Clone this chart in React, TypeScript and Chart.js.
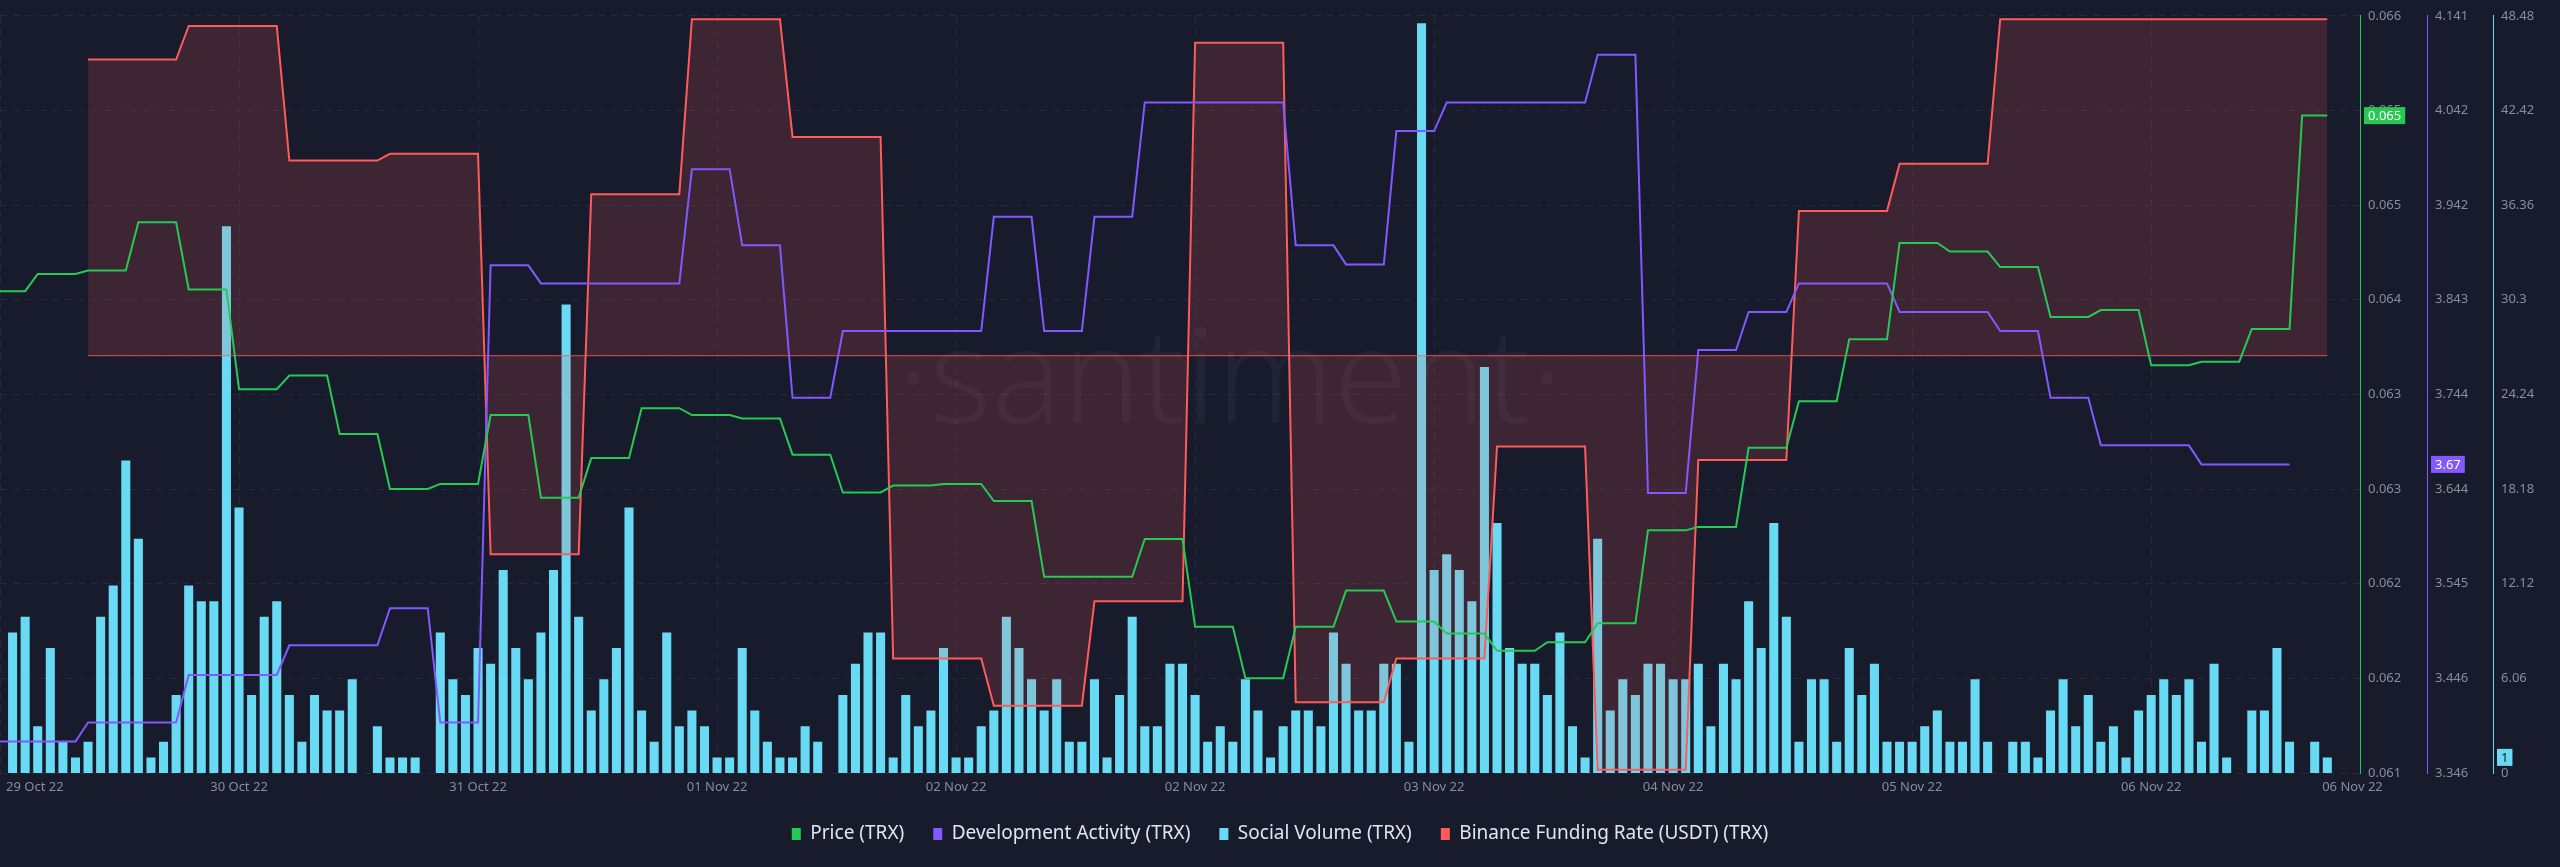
import React, { useEffect, useRef } from 'react';
import { Chart, registerables } from 'chart.js';

Chart.register(...registerables);

// ---------- data (hourly samples, index 0..185) ----------
const X_INDEX: number[] = Array.from({ length: 186 }, (_, i) => i);

const X_TICK_LABELS = ['29 Oct 22', '30 Oct 22', '31 Oct 22', '01 Nov 22', '02 Nov 22', '02 Nov 22', '03 Nov 22', '04 Nov 22', '05 Nov 22', '06 Nov 22', '06 Nov 22'];
const X_TICK_AT = [0, 19, 38, 57, 76, 95, 114, 133, 152, 171, 187];

const PRICE_MIN = 0.06125;
const PRICE_MAX = 0.06565;
const PRICE_TICK_LABELS = ['0.061', '0.062', '0.062', '0.063', '0.063', '0.064', '0.065', '0.065', '0.066'];

const DEV_MIN = 3.346;
const DEV_MAX = 4.141;
const DEV_TICK_LABELS = ['3.346', '3.446', '3.545', '3.644', '3.744', '3.843', '3.942', '4.042', '4.141'];

const SOCIAL_MIN = 0;
const SOCIAL_MAX = 48.48;
const SOCIAL_TICK_LABELS = ['0', '6.06', '12.12', '18.18', '24.24', '30.3', '36.36', '42.42', '48.48'];

const FUNDING_MIN = -0.0124;
const FUNDING_MAX = 0.0101;

const SOCIAL: number[] = [
  0, 9, 10, 3, 8, 2, 1, 2, 10, 12,
  20, 15, 1, 2, 5, 12, 11, 11, 35, 17,
  5, 10, 11, 5, 2, 5, 4, 4, 6, 0,
  3, 1, 1, 1, 0, 9, 6, 5, 8, 7,
  13, 8, 6, 9, 13, 30, 10, 4, 6, 8,
  17, 4, 2, 9, 3, 4, 3, 1, 1, 8,
  4, 2, 1, 1, 3, 2, 0, 5, 7, 9,
  9, 1, 5, 3, 4, 8, 1, 1, 3, 4,
  10, 8, 6, 4, 6, 2, 2, 6, 1, 5,
  10, 3, 3, 7, 7, 5, 2, 3, 2, 6,
  4, 1, 3, 4, 4, 3, 9, 7, 4, 4,
  7, 7, 2, 48, 13, 14, 13, 11, 26, 16,
  8, 7, 7, 5, 9, 3, 1, 15, 4, 6,
  5, 7, 7, 6, 6, 7, 3, 7, 6, 11,
  8, 16, 10, 2, 6, 6, 2, 8, 5, 7,
  2, 2, 2, 3, 4, 2, 2, 6, 2, 0,
  2, 2, 1, 4, 6, 3, 5, 2, 3, 1,
  4, 5, 6, 5, 6, 2, 7, 1, 0, 4,
  4, 8, 2, 0, 2, 1,
];

const PRICE: number[] = [
  0.06405, 0.06405, 0.06405, 0.06415, 0.06415, 0.06415, 0.06415, 0.06417, 0.06417, 0.06417,
  0.06417, 0.06445, 0.06445, 0.06445, 0.06445, 0.06406, 0.06406, 0.06406, 0.06406, 0.06348,
  0.06348, 0.06348, 0.06348, 0.06356, 0.06356, 0.06356, 0.06356, 0.06322, 0.06322, 0.06322,
  0.06322, 0.0629, 0.0629, 0.0629, 0.0629, 0.06293, 0.06293, 0.06293, 0.06293, 0.06333,
  0.06333, 0.06333, 0.06333, 0.06285, 0.06285, 0.06285, 0.06285, 0.06308, 0.06308, 0.06308,
  0.06308, 0.06337, 0.06337, 0.06337, 0.06337, 0.06333, 0.06333, 0.06333, 0.06333, 0.06331,
  0.06331, 0.06331, 0.06331, 0.0631, 0.0631, 0.0631, 0.0631, 0.06288, 0.06288, 0.06288,
  0.06288, 0.06292, 0.06292, 0.06292, 0.06292, 0.06293, 0.06293, 0.06293, 0.06293, 0.06283,
  0.06283, 0.06283, 0.06283, 0.06239, 0.06239, 0.06239, 0.06239, 0.06239, 0.06239, 0.06239,
  0.06239, 0.06261, 0.06261, 0.06261, 0.06261, 0.0621, 0.0621, 0.0621, 0.0621, 0.0618,
  0.0618, 0.0618, 0.0618, 0.0621, 0.0621, 0.0621, 0.0621, 0.06231, 0.06231, 0.06231,
  0.06231, 0.06213, 0.06213, 0.06213, 0.06213, 0.06206, 0.06206, 0.06206, 0.06206, 0.06196,
  0.06196, 0.06196, 0.06196, 0.06201, 0.06201, 0.06201, 0.06201, 0.06212, 0.06212, 0.06212,
  0.06212, 0.06266, 0.06266, 0.06266, 0.06266, 0.06268, 0.06268, 0.06268, 0.06268, 0.06314,
  0.06314, 0.06314, 0.06314, 0.06341, 0.06341, 0.06341, 0.06341, 0.06377, 0.06377, 0.06377,
  0.06377, 0.06433, 0.06433, 0.06433, 0.06433, 0.06428, 0.06428, 0.06428, 0.06428, 0.06419,
  0.06419, 0.06419, 0.06419, 0.0639, 0.0639, 0.0639, 0.0639, 0.06394, 0.06394, 0.06394,
  0.06394, 0.06362, 0.06362, 0.06362, 0.06362, 0.06364, 0.06364, 0.06364, 0.06364, 0.06383,
  0.06383, 0.06383, 0.06383, 0.06507, 0.06507, 0.06507,
];

const DEV: (number | null)[] = [
  3.379, 3.379, 3.379, 3.379, 3.379, 3.379, 3.379, 3.399, 3.399, 3.399,
  3.399, 3.399, 3.399, 3.399, 3.399, 3.449, 3.449, 3.449, 3.449, 3.449,
  3.449, 3.449, 3.449, 3.48, 3.48, 3.48, 3.48, 3.48, 3.48, 3.48,
  3.48, 3.519, 3.519, 3.519, 3.519, 3.399, 3.399, 3.399, 3.399, 3.879,
  3.879, 3.879, 3.879, 3.86, 3.86, 3.86, 3.86, 3.86, 3.86, 3.86,
  3.86, 3.86, 3.86, 3.86, 3.86, 3.98, 3.98, 3.98, 3.98, 3.9,
  3.9, 3.9, 3.9, 3.74, 3.74, 3.74, 3.74, 3.81, 3.81, 3.81,
  3.81, 3.81, 3.81, 3.81, 3.81, 3.81, 3.81, 3.81, 3.81, 3.93,
  3.93, 3.93, 3.93, 3.81, 3.81, 3.81, 3.81, 3.93, 3.93, 3.93,
  3.93, 4.05, 4.05, 4.05, 4.05, 4.05, 4.05, 4.05, 4.05, 4.05,
  4.05, 4.05, 4.05, 3.9, 3.9, 3.9, 3.9, 3.88, 3.88, 3.88,
  3.88, 4.02, 4.02, 4.02, 4.02, 4.05, 4.05, 4.05, 4.05, 4.05,
  4.05, 4.05, 4.05, 4.05, 4.05, 4.05, 4.05, 4.1, 4.1, 4.1,
  4.1, 3.64, 3.64, 3.64, 3.64, 3.79, 3.79, 3.79, 3.79, 3.83,
  3.83, 3.83, 3.83, 3.86, 3.86, 3.86, 3.86, 3.86, 3.86, 3.86,
  3.86, 3.83, 3.83, 3.83, 3.83, 3.83, 3.83, 3.83, 3.83, 3.81,
  3.81, 3.81, 3.81, 3.74, 3.74, 3.74, 3.74, 3.69, 3.69, 3.69,
  3.69, 3.69, 3.69, 3.69, 3.69, 3.67, 3.67, 3.67, 3.67, 3.67,
  3.67, 3.67, 3.67, null, null, null,
];

const FUNDING: (number | null)[] = [
  null, null, null, null, null, null, null, 0.0088, 0.0088, 0.0088,
  0.0088, 0.0088, 0.0088, 0.0088, 0.0088, 0.0098, 0.0098, 0.0098, 0.0098, 0.0098,
  0.0098, 0.0098, 0.0098, 0.0058, 0.0058, 0.0058, 0.0058, 0.0058, 0.0058, 0.0058,
  0.0058, 0.006, 0.006, 0.006, 0.006, 0.006, 0.006, 0.006, 0.006, -0.0059,
  -0.0059, -0.0059, -0.0059, -0.0059, -0.0059, -0.0059, -0.0059, 0.0048, 0.0048, 0.0048,
  0.0048, 0.0048, 0.0048, 0.0048, 0.0048, 0.01, 0.01, 0.01, 0.01, 0.01,
  0.01, 0.01, 0.01, 0.0065, 0.0065, 0.0065, 0.0065, 0.0065, 0.0065, 0.0065,
  0.0065, -0.009, -0.009, -0.009, -0.009, -0.009, -0.009, -0.009, -0.009, -0.0104,
  -0.0104, -0.0104, -0.0104, -0.0104, -0.0104, -0.0104, -0.0104, -0.0073, -0.0073, -0.0073,
  -0.0073, -0.0073, -0.0073, -0.0073, -0.0073, 0.0093, 0.0093, 0.0093, 0.0093, 0.0093,
  0.0093, 0.0093, 0.0093, -0.0103, -0.0103, -0.0103, -0.0103, -0.0103, -0.0103, -0.0103,
  -0.0103, -0.009, -0.009, -0.009, -0.009, -0.009, -0.009, -0.009, -0.009, -0.0027,
  -0.0027, -0.0027, -0.0027, -0.0027, -0.0027, -0.0027, -0.0027, -0.0123, -0.0123, -0.0123,
  -0.0123, -0.0123, -0.0123, -0.0123, -0.0123, -0.0031, -0.0031, -0.0031, -0.0031, -0.0031,
  -0.0031, -0.0031, -0.0031, 0.0043, 0.0043, 0.0043, 0.0043, 0.0043, 0.0043, 0.0043,
  0.0043, 0.0057, 0.0057, 0.0057, 0.0057, 0.0057, 0.0057, 0.0057, 0.0057, 0.01,
  0.01, 0.01, 0.01, 0.01, 0.01, 0.01, 0.01, 0.01, 0.01, 0.01,
  0.01, 0.01, 0.01, 0.01, 0.01, 0.01, 0.01, 0.01, 0.01, 0.01,
  0.01, 0.01, 0.01, 0.01, 0.01, 0.01,
];

const SERIES_LABELS = ['Price (TRX)', 'Development Activity (TRX)', 'Social Volume (TRX)', 'Binance Funding Rate (USDT) (TRX)'];

// ---------- styles ----------
const BG = '#181b2b';
const GREEN = '#26c953';
const PURPLE = '#8358ff';
const CYAN = '#68daf4';
const RED = '#ff5b5b';
const GRID = '#262a3c';
const TICK = '#878ca0';
const FONT = '"Noto Sans", "Open Sans", sans-serif';
const SWATCHES = [GREEN, PURPLE, CYAN, RED];

const lastValue = (arr: (number | null)[]) => {
  for (let i = arr.length - 1; i >= 0; i--) if (arr[i] !== null) return arr[i] as number;
  return null;
};

const bgPlugin = {
  id: 'bg',
  beforeDraw(chart: any) {
    const { ctx, width, height } = chart;
    ctx.save();
    ctx.fillStyle = BG;
    ctx.fillRect(0, 0, width, height);
    ctx.restore();
  },
};

const watermarkPlugin = {
  id: 'watermark',
  beforeDatasetsDraw(chart: any) {
    const { ctx } = chart;
    const text = '·santiment·';
    ctx.save();
    ctx.font = `300 150px ${FONT}`;
    const w = ctx.measureText(text).width;
    const size = 150 * 666 / w;
    ctx.font = `300 ${size}px ${FONT}`;
    ctx.fillStyle = 'rgba(255,255,255,0.045)';
    ctx.textAlign = 'center';
    ctx.textBaseline = 'alphabetic';
    ctx.fillText(text, 1230, 423);
    ctx.restore();
  },
};

const xLabelPlugin = {
  id: 'xLabels',
  afterDraw(chart: any) {
    const { ctx, chartArea } = chart;
    const xs = chart.scales.x;
    ctx.save();
    ctx.font = `13px ${FONT}`;
    ctx.fillStyle = TICK;
    ctx.textBaseline = 'middle';
    ctx.textAlign = 'left';
    X_TICK_AT.forEach((v, i) => {
      const t = X_TICK_LABELS[i];
      const w = ctx.measureText(t).width;
      const left = Math.max(xs.getPixelForValue(v) - w / 2, 6);
      ctx.fillText(t, left, chartArea.bottom + 14);
    });
    ctx.restore();
  },
};

const badgePlugin = {
  id: 'badges',
  afterDraw(chart: any) {
    const { ctx } = chart;
    const items = [
      { axis: 'yP', v: lastValue(PRICE), txt: (v: number) => v.toFixed(3), bg: GREEN, fg: '#ffffff' },
      { axis: 'yD', v: lastValue(DEV), txt: (v: number) => v.toFixed(2), bg: PURPLE, fg: '#ffffff' },
      { axis: 'yS', v: lastValue(SOCIAL), txt: (v: number) => String(v), bg: CYAN, fg: '#181b2b' },
    ];
    ctx.save();
    ctx.font = `13px ${FONT}`;
    ctx.textBaseline = 'middle';
    ctx.textAlign = 'left';
    items.forEach((it) => {
      if (it.v === null) return;
      const s = chart.scales[it.axis];
      const y = s.getPixelForValue(it.v);
      const t = it.txt(it.v);
      const w = ctx.measureText(t).width + 8;
      const x = s.left + 4;
      ctx.fillStyle = it.bg;
      ctx.fillRect(x, y - 8.5, w, 17);
      ctx.fillStyle = it.fg;
      ctx.fillText(t, x + 4, y + 0.5);
    });
    ctx.restore();
  },
};

export default function App() {
  const ref = useRef<HTMLCanvasElement | null>(null);

  useEffect(() => {
    if (!ref.current) return;
    document.body.style.margin = '0';
    document.body.style.background = BG;

    const chart = new Chart(ref.current, {
      type: 'bar',
      data: {
        labels: X_INDEX,
        datasets: [
          {
            type: 'line',
            label: SERIES_LABELS[0],
            data: PRICE,
            yAxisID: 'yP',
            borderColor: GREEN,
            backgroundColor: GREEN,
            borderWidth: 2,
            pointRadius: 0,
            tension: 0,
            fill: false,
            order: 0,
          },
          {
            type: 'line',
            label: SERIES_LABELS[1],
            data: DEV,
            yAxisID: 'yD',
            borderColor: PURPLE,
            backgroundColor: PURPLE,
            borderWidth: 2,
            pointRadius: 0,
            tension: 0,
            fill: false,
            order: 1,
          },
          {
            type: 'bar',
            label: SERIES_LABELS[2],
            data: SOCIAL,
            yAxisID: 'yS',
            backgroundColor: CYAN,
            borderWidth: 0,
            order: 5,
          },
          {
            type: 'line',
            label: SERIES_LABELS[3],
            data: FUNDING,
            yAxisID: 'yF',
            borderColor: RED,
            backgroundColor: RED,
            borderWidth: 2,
            pointRadius: 0,
            tension: 0,
            fill: { target: 'origin', above: 'rgba(255,91,91,0.16)', below: 'rgba(255,91,91,0.16)' },
            order: 3,
          },
          {
            type: 'line',
            label: '',
            data: FUNDING.map((v) => (v === null ? null : 0)),
            yAxisID: 'yF',
            borderColor: 'rgba(255,91,91,0.85)',
            borderWidth: 1,
            pointRadius: 0,
            fill: false,
            order: 2,
          },
        ],
      } as any,
      options: {
        responsive: false,
        animation: false,
        devicePixelRatio: 1,
        layout: { padding: { top: 9, bottom: 13.5, left: 0, right: 0 } },
        plugins: {
          tooltip: { enabled: false },
          legend: {
            position: 'bottom',
            labels: {
              font: { family: FONT, size: 19 },
              color: '#e3e5ee',
              boxWidth: 9,
              boxHeight: 12,
              padding: 29,
              generateLabels: (ch: any) =>
                ch.data.datasets
                  .map((ds: any, i: number) => ({
                    text: ds.label,
                    fillStyle: SWATCHES[i],
                    strokeStyle: SWATCHES[i],
                    lineWidth: 0,
                    hidden: false,
                    datasetIndex: i,
                    fontColor: '#e3e5ee',
                  }))
                  .filter((it: any) => it.text),
            },
          },
        },
        scales: {
          x: {
            type: 'linear',
            min: 0,
            max: 187.6,
            offset: false,
            afterBuildTicks: (s: any) => {
              s.ticks = X_TICK_AT.slice(0, -1).map((v) => ({ value: v }));
            },
            afterFit: (s: any) => {
              s.height = 22.5;
            },
            ticks: { display: false },
            grid: { color: GRID, drawTicks: false, offset: false },
            border: { display: false, dash: [7, 6] },
          },
          yP: {
            type: 'linear',
            position: 'right',
            weight: 0,
            min: PRICE_MIN,
            max: PRICE_MAX,
            afterBuildTicks: (s: any) => {
              s.ticks = PRICE_TICK_LABELS.map((_, i) => ({ value: PRICE_MIN + ((PRICE_MAX - PRICE_MIN) * i) / 8 }));
            },
            afterFit: (s: any) => {
              s.width = 67;
            },
            ticks: {
              color: TICK,
              font: { family: FONT, size: 13 },
              padding: 8,
              callback: (_v: any, i: number) => PRICE_TICK_LABELS[i],
            },
            grid: { color: GRID, drawTicks: false },
            border: { color: GREEN, width: 1, dash: [7, 6] },
          },
          yD: {
            type: 'linear',
            position: 'right',
            weight: 1,
            min: DEV_MIN,
            max: DEV_MAX,
            afterBuildTicks: (s: any) => {
              s.ticks = DEV_TICK_LABELS.map((_, i) => ({ value: DEV_MIN + ((DEV_MAX - DEV_MIN) * i) / 8 }));
            },
            afterFit: (s: any) => {
              s.width = 66;
            },
            ticks: {
              color: TICK,
              font: { family: FONT, size: 13 },
              padding: 8,
              callback: (_v: any, i: number) => DEV_TICK_LABELS[i],
            },
            grid: { display: false, drawTicks: false },
            border: { color: PURPLE, width: 1 },
          },
          yS: {
            type: 'linear',
            position: 'right',
            weight: 2,
            min: SOCIAL_MIN,
            max: SOCIAL_MAX,
            afterBuildTicks: (s: any) => {
              s.ticks = SOCIAL_TICK_LABELS.map((_, i) => ({ value: SOCIAL_MIN + ((SOCIAL_MAX - SOCIAL_MIN) * i) / 8 }));
            },
            afterFit: (s: any) => {
              s.width = 67;
            },
            ticks: {
              color: TICK,
              font: { family: FONT, size: 13 },
              padding: 8,
              callback: (_v: any, i: number) => SOCIAL_TICK_LABELS[i],
            },
            grid: { display: false, drawTicks: false },
            border: { color: CYAN, width: 1 },
          },
          yF: {
            type: 'linear',
            display: false,
            min: FUNDING_MIN,
            max: FUNDING_MAX,
          },
        },
      } as any,
      plugins: [bgPlugin, watermarkPlugin, xLabelPlugin, badgePlugin],
    });

    return () => chart.destroy();
  }, []);

  return (
    <div style={{ position: 'fixed', left: 0, top: 0, width: 2560, height: 867, background: BG }}>
      <canvas ref={ref} width={2560} height={867} style={{ display: 'block', width: 2560, height: 867 }} />
    </div>
  );
}
